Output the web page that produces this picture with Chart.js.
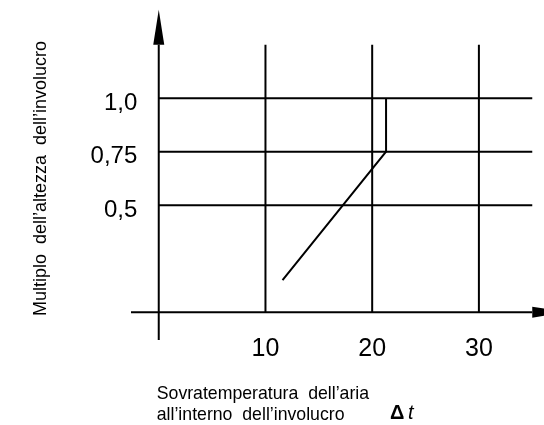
<!DOCTYPE html>
<html>
<head>
<meta charset="utf-8">
<script src="https://cdn.jsdelivr.net/npm/chart.js@4/dist/chart.umd.min.js"></script>
<style>
  html, body { margin: 0; padding: 0; background: #fff; }
  #wrap { width: 544px; height: 425px; }
</style>
</head>
<body>
<div id="wrap"><canvas id="c" width="544" height="425"></canvas></div>
<script>
// ---- data ----
const xTicks = [10, 20, 30];
const xTickLabels = ['10', '20', '30'];
const yTicks = [0.5, 0.75, 1.0];
const yTickLabels = ['0,5', '0,75', '1,0'];
const curveX = [11.6, 21.3, 21.3];
const curveY = [0.15, 0.75, 1.0];
const yTitle = "Multiplo  dell\u2019altezza  dell\u2019involucro";
const xTitleLines = ["Sovratemperatura  dell\u2019aria", "all\u2019interno  dell\u2019involucro"];
const deltaSymbol = "\u0394";
const deltaVar = "t";

// axis extents (in data units)
const xMin = -2.6, xMax = 36.1;
const yMin = -0.13, yMax = 1.412;
const xGridEnd = 35, yGridEnd = 1.25;

const FONT = '"Liberation Sans", Arial, sans-serif';

const framePlugin = {
  id: 'frame',
  beforeDatasetsDraw(chart) {
    const { ctx, scales: { x, y } } = chart;
    const X = v => x.getPixelForValue(v);
    const Y = v => y.getPixelForValue(v);
    const seg = (x1, y1, x2, y2) => { ctx.beginPath(); ctx.moveTo(x1, y1); ctx.lineTo(x2, y2); ctx.stroke(); };
    ctx.save();
    ctx.strokeStyle = '#000';
    ctx.fillStyle = '#000';
    ctx.lineWidth = 2;
    // grid
    yTicks.forEach(t => seg(X(0), Y(t), X(xGridEnd), Y(t)));
    xTicks.forEach(t => seg(X(t), Y(0), X(t), Y(yGridEnd)));
    // axes
    seg(X(xMin), Y(0), X(xGridEnd), Y(0));
    seg(X(0), Y(yMin), X(0), Y(yGridEnd));
    // arrows
    const ax = X(xGridEnd), ay = Y(0);
    ctx.beginPath(); ctx.moveTo(ax, ay - 5.5); ctx.lineTo(ax + 35, ay); ctx.lineTo(ax, ay + 5.5); ctx.closePath(); ctx.fill();
    const bx = X(0), by = Y(yGridEnd);
    ctx.beginPath(); ctx.moveTo(bx - 5.5, by); ctx.lineTo(bx, by - 35); ctx.lineTo(bx + 5.5, by); ctx.closePath(); ctx.fill();
    ctx.restore();
  },
  afterDraw(chart) {
    const { ctx, scales: { x, y } } = chart;
    const X = v => x.getPixelForValue(v);
    const Y = v => y.getPixelForValue(v);
    ctx.save();
    ctx.fillStyle = '#000';
    // y tick labels
    ctx.font = '24px ' + FONT;
    ctx.textAlign = 'right';
    ctx.textBaseline = 'alphabetic';
    yTicks.forEach((t, i) => ctx.fillText(yTickLabels[i], X(0) - 21.5, Y(t) + 11.5));
    // x tick labels
    ctx.font = '25px ' + FONT;
    ctx.textAlign = 'center';
    xTicks.forEach((t, i) => ctx.fillText(xTickLabels[i], X(t), Y(0) + 44));
    // x title
    ctx.font = '17.7px ' + FONT;
    ctx.textAlign = 'left';
    ctx.fillText(xTitleLines[0], X(0) - 2, 399);
    ctx.fillText(xTitleLines[1], X(0) - 2, 420);
    ctx.font = 'bold 20px ' + FONT;
    ctx.fillText(deltaSymbol, 390, 419);
    ctx.font = 'italic 20px ' + FONT;
    ctx.fillText(deltaVar, 408, 419);
    // y title
    ctx.font = '18px ' + FONT;
    ctx.translate(46, 178.5);
    ctx.rotate(-Math.PI / 2);
    ctx.textAlign = 'center';
    ctx.fillText(yTitle, 0, 0);
    ctx.restore();
  }
};

new Chart(document.getElementById('c'), {
  type: 'scatter',
  data: {
    datasets: [{
      data: curveX.map((v, i) => ({ x: v, y: curveY[i] })),
      showLine: true,
      borderColor: '#000',
      borderWidth: 2,
      pointRadius: 0,
      fill: false,
      tension: 0
    }]
  },
  options: {
    responsive: false,
    animation: false,
    events: [],
    layout: { padding: { left: 131, right: 0, top: 10, bottom: 85 } },
    plugins: { legend: { display: false }, tooltip: { enabled: false } },
    scales: {
      x: { type: 'linear', min: xMin, max: xMax, display: false },
      y: { type: 'linear', min: yMin, max: yMax, display: false }
    }
  },
  plugins: [framePlugin]
});
</script>
</body>
</html>
